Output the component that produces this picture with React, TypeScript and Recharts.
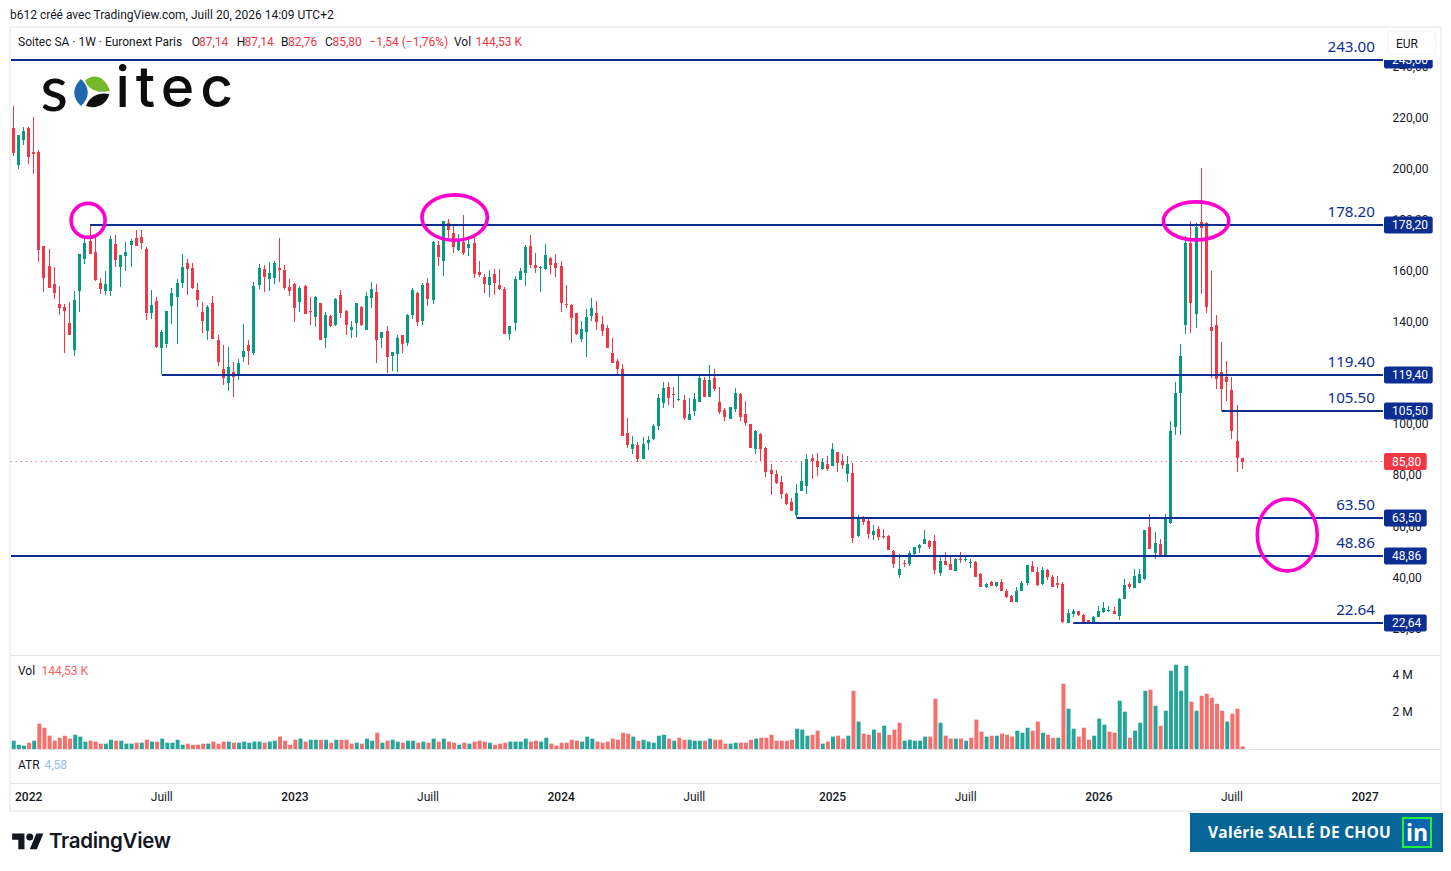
// Soitec weekly candles, TradingView layout: price pane + volume pane

import React from "react";
import { ComposedChart, Bar, Cell, XAxis, YAxis, ReferenceLine, ReferenceDot } from "recharts";

// ─── Data: [open, high, low, close] per week ─────────────────────────────────

const candles2022 = [
  [216.3,225,205.5,206.7],[202,213.6,200.4,213.6],[211.6,216.6,209.8,215.2],[216.3,216.6,202.4,205.1],[206.9,220.5,198.5,206.2],
  [206.9,207.7,163.9,168.6],[170.2,170.2,152.3,157.8],[162.3,169,153.8,153.8],[155.3,161.9,149.4,151.9],[147.5,154.5,143.3,145.9],
  [146.3,147.5,128.4,144.7],[140,148.2,135.3,135.3],[129.6,152.5,127.2,149],[152.7,167,144.5,167],[165.1,173.3,163.1,171.3],
  [172.1,178.4,167,167],[167.8,173.7,156.5,156.9],[155.7,157.6,151.4,153.3],[152.5,160.4,151,155.3],[152.5,174.1,150.6,172.9],
  [170.9,174.5,161.9,164.7],[161.9,166.6,154.1,166.6],[166.2,171.7,160.4,167.8],[170.5,172.9,161.9,172.1],[173.3,176.4,170.2,170.2],
  [173.7,176.4,169,171.3],[169,169.8,141.2,143.9],[143.9,152.9,141.6,147.1],[148.6,150.2,130.2,130.6],[130.2,137.3,120.1,136.5],
  [131.8,144.7,130.2,144.7],[146.7,153.7,139.6,151.8],[150.2,157.2,131.8,155.7],[155.7,167,153.7,161.9],[163.5,165.1,151,161.2],
  [161.5,163.5,153.3,153.7],[152.9,155.7,146.3,149],[144.3,148.2,136.1,140.8],[136.9,147.1,133.4,146.3],[147.9,150.6,133.8,133.8],
  [133.4,135.3,123.2,124.8],[122,131.4,115.8,118.5],[116.5,130.6,113.4,122.8],[120.8,124.8,111.1,118.9],[119.3,125.9,117.7,124.4],
  [126.7,139.6,124.8,129.1],[131.4,133.4,123.6,129.1],[128.3,156.1,127.5,154.5],[154.9,163.1,153.3,161.5],[161.2,162.7,152.1,158],
  [157.2,163.9,152.5,159.6],[157.6,164.3,155.3,163.5],[161.5,173.3,156.1,160.8],[160.8,162.7,152.9,153.7],[154.1,157.2,150.6,152.5],
];
const candles2023 = [
  [155.3,155.7,140.4,145.9],[148.3,154.5,144.3,153.7],[154.5,154.9,143.6,143.6],[144.7,150.2,139.3,144.3],[142.4,150.6,138.5,150.2],
  [147.9,147.9,133.4,133.4],[134.2,144.3,130.3,143.2],[142.8,143.2,138.5,138.9],[139.3,149.8,138.9,149.4],[151,153,142,144],
  [144.7,145.1,135.3,139.3],[137.3,140.8,134.2,138.5],[140,147.9,134.6,147.9],[146.3,146.7,138.9,139.3],[137.3,152.2,137.3,150.6],
  [149.8,156.1,145.9,153.4],[152.2,155.3,124.4,133.4],[134.2,136.5,130.3,136.5],[136.9,138.9,120.5,126.7],[127.1,128.7,121.3,128.7],
  [127.9,135.3,120.9,134.2],[135.3,135.3,128.3,131.8],[132.2,143.6,131,143.2],[143.2,153.7,141.6,153],[151.8,152.2,138.9,140.4],
  [140.8,155.7,139.3,154.9],[155.7,157.7,146.7,149.4],[149,172.1,147.5,171.7],[170.6,172.1,162.4,165.9],[164.3,180,158.4,180],
  [179.2,180.8,173.3,176.4],[175.3,178.4,167.4,169.8],[168.6,174.9,168.2,172.1],[171.7,182.3,166.7,167.4],[169.4,174.1,166.3,171],
  [171.4,173.7,157.7,159.2],[160,164.3,158,158.8],[158,159.2,151.8,155.3],[154.9,160.8,150.2,158],[159.2,161.2,151,155.7],
  [154.9,161.2,153,153.4],[153.4,154.1,135.7,135.7],[135.7,138.9,133.4,138.9],[140,158.4,136.9,157.3],[156.9,161.6,156.9,160.4],
  [159.6,170.6,154.5,169.8],[170.2,174.5,161.6,162.7],[162.7,167.4,159.6,161.6],[161.6,162.4,152.2,162],[161.2,171,160.8,166.7],
  [165.5,165.9,159.2,162.7],[163.5,167.1,158,161.6],
];
const candles2024 = [
  [162.4,164.3,144.3,147.9],[147.5,154.9,145.9,147.1],[147.1,147.5,132.2,142],[144,144,135.3,135.7],[133.8,140.8,132.6,137.7],
  [136.5,145.5,126.7,142.4],[142.8,149.8,140.8,145.9],[144,148.7,137.3,140.4],[139.7,142.8,135,136.9],[138.1,139.3,130.3,130.3],
  [128.3,134.2,124.4,124.4],[125.2,126,120.1,122],[122.1,124,95.8,95.8],[97,102.9,91.1,92.3],[90.8,95.8,88.8,92.7],
  [92.3,93.5,85.7,86.8],[86.8,95.4,86.8,92.7],[93.1,95.8,90.4,94.3],[94.7,100.5,94.3,99.8],[99.8,112.3,98.2,110.7],
  [108.8,117,106.8,114.6],[115,117,108,110.7],[112.3,115,106.8,111.9],[109.9,119.7,109.5,110.3],[109.9,111.9,102.1,102.9],
  [102.1,110.7,102.1,104.5],[105.6,112.7,103.7,110.3],[109.1,120.1,109.1,118.5],[117.8,118.9,111.1,111.1],[111.1,123.6,111.1,117.8],
  [118.5,122.1,113.5,114.2],[109.1,115,104.5,105.2],[106,106.8,101.7,103.3],[102.5,107.2,102.5,107.2],[106.4,114.6,105.2,112.7],
  [112.3,112.7,101.7,103.3],[104.5,109.5,99.8,100.9],[100.5,100.5,91.1,91.1],[90.8,98.2,88.8,97.8],[96.6,97,86.1,90.8],
  [91.1,91.5,79.8,81.7],[82.5,84.9,72.8,81],[81,82.5,77.1,77.4],[77.8,80.2,71.2,73.1],[73.1,73.5,68.8,69.2],
  [70,71.6,66.5,66.5],[64.9,77.1,63.7,73.5],[74.3,86.1,74.3,78.2],[76.3,88.8,73.1,86.8],[87.2,88.8,79,86.1],
  [86.1,89.2,80.2,83.7],[82.9,87.2,82.5,85.7],[84.9,88,82.1,82.9],
];
const candles2025 = [
  [84.1,93.1,84.1,90.8],[89.6,89.6,81.7,85.3],[86.1,88.8,82.9,84.5],[81,88,77.8,84.9],[81.4,85.3,54,55.9],
  [56.7,64.9,56.3,64.1],[63.7,64.5,61,62.2],[62.6,63.7,55.5,57.5],[57.1,61,55.1,58.7],[59.4,60.6,55.1,56.3],
  [56.7,59.4,55.5,56.3],[56.7,57.1,51.2,51.2],[50.8,51.2,44.2,45.7],[41.4,49.7,40.3,43.8],[46.1,47.3,44.6,45.7],
  [45.7,50.8,44.9,50],[49.7,52.4,48.9,52.4],[52,53.6,50,53.2],[53.6,59,53.6,55.5],[54.7,55.1,51.6,52.4],
  [54.7,57.1,41.8,43.4],[42.2,49.2,41,46.9],[46.9,50.4,45.3,45.3],[45.7,48.5,43.4,43.4],[43,48.1,43,47.7],
  [47.7,50.4,46.1,47.3],[47.3,48.8,46.5,47.7],[46.1,47.7,44.1,46.5],[46.5,46.9,40.6,40.6],[41.8,42.2,36.7,36.7],
  [36.7,38.3,36.3,37.9],[38.7,39.1,37.1,37.1],[37.1,38.7,36.7,38.7],[38.7,39.8,35.1,35.1],[35.1,35.9,32.4,32.8],
  [33.2,33.6,30.8,30.8],[30.8,36.7,30.8,35.1],[35.1,39.1,35.1,38.3],[38.3,45.3,37.5,45.3],[44.9,46.9,42.6,42.6],
  [42.6,44.5,37.1,37.5],[37.9,44.5,37.5,43.4],[43.4,43.8,39.5,40.6],[40.6,41.4,36.7,36.7],[38.3,41,36.3,37.5],
  [37.9,38.7,22.6,23],[22.6,28.1,22.6,26.5],[26.1,28.1,25,27.3],[27.3,27.3,25.4,25.8],[25.8,26.1,22.6,23],
  [23.8,23.8,22.6,22.6],[22.6,25.4,22.6,25],
];
const candles2026 = [
  [25,29.3,25,27.3],[27,30.8,26.5,28.5],[27.3,29.3,26.9,27.7],[27.3,28.9,26.1,26.1],[25.4,32.4,23.8,32],
  [32,39.8,32,37.5],[37.9,38.7,35.9,36.7],[36.3,43.8,36.3,41],[38.3,43.8,38.3,41.8],[39.8,59,39.5,59],
  [60.2,65.3,51.6,51.6],[50,58.2,47.7,54],[53.5,55.5,48.9,49.2],[49.2,65.3,48.9,63.7],[61.8,101.7,61.4,97.8],
  [99.3,116.9,96.2,112.6],[112.6,131.8,96.2,127.1],[139.3,174.1,135.7,171.3],[171.3,180,136.1,147.9],[143.6,179.2,138.1,177.6],
  [179.6,200.7,151.4,177.2],[179.2,179.6,144,146.3],[138.5,160.4,118.5,136.9],[139.3,143.2,114.2,118.1],[120.9,132.6,105.6,114.2],
  [118.9,125.2,109.5,116.9],[113.8,118.9,94.6,97.8],[93.9,107.9,81.7,87.2],[87.14,87.14,82.76,85.8],
];
const candles = [...candles2022, ...candles2023, ...candles2024, ...candles2025, ...candles2026];

// volume in millions, same order as candles
const volumes = [
  .45,.23,.18,.34,.45,1.37,1.15,.72,.45,.61,.72,.56,.77,.67,.4,.45,.4,.29,.29,.5,.45,.45,.29,.29,.34,.34,.5,.4,.4,.56,
  .34,.34,.5,.23,.29,.23,.23,.29,.29,.4,.29,.4,.4,.34,.34,.4,.34,.4,.4,.34,.4,.45,.67,.45,.23,.5,.56,.4,.5,.5,
  .5,.5,.34,.5,.5,.5,.29,.34,.29,.56,.45,.88,.34,.45,.5,.4,.34,.45,.45,.34,.4,.34,.56,.4,.56,.4,.34,.23,.34,.29,
  .4,.45,.4,.34,.23,.29,.34,.4,.4,.4,.56,.4,.45,.4,.61,.29,.18,.34,.34,.5,.45,.4,.67,.56,.4,.34,.4,.56,.5,.88,
  .83,.67,.45,.5,.4,.34,.72,.77,.56,.45,.61,.5,.5,.45,.45,.45,.56,.5,.5,.29,.29,.34,.34,.34,.5,.56,.61,.61,.77,.45,
  .45,.45,.5,1.1,1.05,.72,.77,.99,.29,.4,.67,.72,.56,.72,3.15,1.48,.83,.77,1.05,.88,1.26,.77,1.05,1.42,.45,.5,.45,.45,.67,.67,
  2.72,1.42,.72,.56,.56,.56,.45,.61,1.59,.94,.67,.72,.72,.83,.77,.67,.99,.88,1.15,.99,1.48,.88,.77,.61,.61,3.53,2.18,1.1,.67,1.15,
  .5,.72,1.64,1.32,.94,.88,2.61,2.02,.61,.99,1.42,3.15,3.21,2.34,1.26,2.07,4.23,4.56,3.15,4.5,2.56,2.07,2.88,2.99,2.77,2.45,
  2.07,1.48,1.91,2.18,.14,
];

const timeTickWeeks = [3, 29, 55, 81, 107, 133, 160, 186, 212, 238, 264];
const timeTickLabels = ["2022", "Juill", "2023", "Juill", "2024", "Juill", "2025", "Juill", "2026", "Juill", "2027"];
const priceTicks = [20, 40, 60, 80, 100, 120, 140, 160, 180, 200, 220, 240];
const volumeTicks = [2, 4];

const levelValues = [243, 178.2, 119.4, 105.5, 63.5, 48.86, 22.64];
const levelLabels = ["243.00", "178.20", "119.40", "105.50", "63.50", "48.86", "22.64"];
const levelStartWeeks = [0, 15, 29, 236, 153, 0, 207];

const lastPrice = 85.8;
const WEEK_SLOTS = 268;
const PRICE_DOMAIN = [10.5, 255.1];

// magenta annotations: week, price, radii
const ringWeeks = [15, 86, 231, 249];
const ringPrices = [180.2, 181.3, 180, 57.1];
const ringRadii = [[17, 17, -2], [32.7, 22.7, 1], [32.7, 19, 0], [30, 36, -1]];

const rows = Array.from({ length: WEEK_SLOTS }, (_, i) => {
  const c = candles[i];
  return c
    ? { i, o: c[0], h: c[1], l: c[2], c: c[3], v: volumes[i], range: [c[2], c[1]] }
    : { i, o: null, h: null, l: null, c: null, v: null, range: null };
});

// ─── Colours / fonts ─────────────────────────────────────────────────────────

const FONT = "Roboto, sans-serif";
const UP = "#089981";
const DOWN = "#f23645";
const VOL_UP = "#26a69a";
const VOL_DOWN = "#f56f6c";
const LEVEL = "#0c2e92";
const INK = "#131722";
const RULE = "#e0e3eb";
const FRAME = "#f1f2f3";
const PLOT_RIGHT = 1383;

const money = (v: number) => v.toFixed(2).replace(".", ",");
const snap = (y: number) => Math.round(y - 0.3);

// ─── Marks ───────────────────────────────────────────────────────────────────

const Candle = (p: any) => {
  const d = p.payload;
  if (!d || d.o == null) return null;
  const cx = Math.round(p.x + p.width / 2 - 0.5);
  const k = p.height / (d.h - d.l);
  const top = p.y + (d.h - Math.max(d.o, d.c)) * k;
  const bodyH = Math.max(Math.abs(d.o - d.c) * k, 1);
  const color = d.c >= d.o ? UP : DOWN;
  return (
    <g shapeRendering="crispEdges">
      <rect x={cx} y={p.y} width={1} height={p.height} fill={color} />
      <rect x={cx - 1} y={top} width={3} height={bodyH} fill={color} />
    </g>
  );
};

const Tag = ({ y, text, fill }: { y: number; text: string; fill: string }) => (
  <g>
    <rect x={1384} y={y - 8.5} width={text.length > 5 ? 48.7 : 42.7} height={17} rx={2} fill={fill} />
    <text x={1392} y={y + 4.3} fontFamily={FONT} fontSize={12} fill="#fff">{text}</text>
  </g>
);

const LevelLabel = ({ viewBox, value, text }: any) => {
  const y = snap(viewBox.y);
  const tag = <Tag y={y} text={money(value)} fill={LEVEL} />;
  return (
    <g>
      {value === 243 ? (
        <g>
          <clipPath id="tag243"><rect x={1380} y={y} width={60} height={10} /></clipPath>
          <g clipPath="url(#tag243)">{tag}</g>
        </g>
      ) : tag}
      <text x={1375} y={y - 8.3} textAnchor="end" fontFamily="'Noto Sans', sans-serif" fontSize={15.2} fill={LEVEL}>{text}</text>
    </g>
  );
};

const LastPriceLabel = ({ viewBox }: any) => <Tag y={viewBox.y} text={money(lastPrice)} fill={DOWN} />;

const Ring = ({ cx, cy, rx, ry, dx }: any) => (
  <ellipse cx={cx + dx} cy={cy} rx={rx} ry={ry} fill="none" stroke="#ff00cc" strokeWidth={3.6} />
);

const PriceTick = ({ y, payload }: any) => (
  <text x={1392.5} y={y + 3} fontFamily={FONT} fontSize={12} fill={INK}>{money(payload.value)}</text>
);
const VolumeTick = ({ y, payload }: any) => (
  <text x={1392.5} y={y + 4} fontFamily={FONT} fontSize={12} fill={INK}>{payload.value} M</text>
);
const TimeTick = ({ x, payload }: any) => {
  const label = timeTickLabels[timeTickWeeks.indexOf(payload.value)];
  return (
    <text x={x} y={801} textAnchor="middle" fontFamily={FONT} fontSize={12} fontWeight={label === "Juill" ? 400 : 500} fill={INK}>{label}</text>
  );
};

// ─── Page furniture ──────────────────────────────────────────────────────────

const T = ({ x, y, color = INK, size = 12, children }: any) => (
  <span style={{ position: "absolute", left: x, top: y, color, fontSize: size, fontFamily: FONT, lineHeight: "14px", whiteSpace: "pre" }}>{children}</span>
);
const Rule = ({ x, y, w, h = 1, c = RULE }: any) => (
  <div style={{ position: "absolute", left: x, top: y, width: w, height: h, background: c }} />
);

const Furniture = () => (
  <>
    <T x={10} y={8}>b612 créé avec TradingView.com, Juill 20, 2026 14:09 UTC+2</T>
    <Rule x={10} y={26} w={1432} h={2} c={FRAME} />
    <Rule x={9} y={26} w={2} h={786} c={FRAME} />
    <Rule x={1440} y={26} w={2} h={786} c={FRAME} />
    <Rule x={10} y={810} w={1432} h={2} c={FRAME} />
    <Rule x={11} y={655} w={1429} />
    <Rule x={11} y={749} w={1429} />
    <Rule x={11} y={783} w={1429} />

    <T x={18} y={35}>Soitec SA · 1W · Euronext Paris</T>
    <T x={191.7} y={35}>O</T><T x={199} y={35} color={DOWN}>87,14</T>
    <T x={236.7} y={35}>H</T><T x={244.5} y={35} color={DOWN}>87,14</T>
    <T x={281} y={35}>B</T><T x={288} y={35} color={DOWN}>82,76</T>
    <T x={325} y={35}>C</T><T x={332.5} y={35} color={DOWN}>85,80</T>
    <T x={369.3} y={35} color={DOWN}>−1,54 (−1,76%)</T>
    <T x={454} y={35}>Vol</T><T x={475.5} y={35} color={DOWN}>144,53 K</T>

    <T x={18} y={664}>Vol</T><T x={41.5} y={664} color="#f7625f">144,53 K</T>
    <T x={18} y={758}>ATR</T><T x={44.5} y={758} color="#90bff9">4,58</T>

    <div style={{ position: "absolute", left: 1387, top: 31, width: 49, height: 24, border: "1px solid #f0f3fa", borderRadius: 4, boxSizing: "border-box", background: "#fff" }} />
    <T x={1396} y={37}>EUR</T>

    {/* Soitec wordmark */}
    <span style={{ position: "absolute", left: 40.5, top: 47, fontFamily: "Lato, sans-serif", fontWeight: 500, fontSize: 63, lineHeight: "80px", color: "#0c0c0c" }}>s</span>
    <span style={{ position: "absolute", left: 115.5, top: 47, fontFamily: "Inter, sans-serif", fontWeight: 500, fontSize: 57, lineHeight: "80px", letterSpacing: 6, color: "#0c0c0c" }}>itec</span>
    <svg style={{ position: "absolute", left: 0, top: 0 }} width={240} height={120}>
      <path d="M81 79 C72 87 72 98 81 106 C90 98 90 87 81 79Z" fill="#1f68ad" />
      <path d="M85 81 C91 74 104 74 110 91 C101 93 90 92 85 81Z" fill="#76b82a" />
      <path d="M86 106 C90 95 100 92 109 94 C108 103 97 110 86 106Z" fill="#0f0f0f" />
    </svg>

    {/* TradingView mark */}
    <svg style={{ position: "absolute", left: 12, top: 830 }} width={32} height={22} viewBox="0 0 36 25">
      <path d="M14 22H7V11H0V4h14v18zM28 22h-8l7.5-18h8L28 22z" fill="#131722" />
      <circle cx={20} cy={8} r={4} fill="#131722" />
    </svg>
    <span style={{ position: "absolute", left: 49, top: 828, fontFamily: "Inter, sans-serif", fontWeight: 600, fontSize: 20.5, lineHeight: "26px", letterSpacing: -0.3, color: "#131722" }}>TradingView</span>

    {/* LinkedIn banner */}
    <div style={{ position: "absolute", left: 1190, top: 813, width: 253, height: 39, background: "#046596" }} />
    <span style={{ position: "absolute", left: 1208, top: 821, fontFamily: "'Open Sans', sans-serif", fontWeight: 700, fontSize: 15.5, lineHeight: "22px", letterSpacing: 0.25, color: "#fff", whiteSpace: "pre" }}>Valérie SALLÉ DE CHOU</span>
    <div style={{ position: "absolute", left: 1402, top: 817, width: 30, height: 31, boxSizing: "border-box", border: "2px solid #22f03c", background: "#0a66b0", color: "#fff", fontFamily: "'Open Sans', sans-serif", fontWeight: 700, fontSize: 23, lineHeight: "27px", textAlign: "center" }}>in</div>
  </>
);

// ─── Charts ──────────────────────────────────────────────────────────────────

export default function App() {
  return (
    <div style={{ position: "absolute", left: 0, top: 0, width: 1451, height: 871, background: "#fff", overflow: "hidden" }}>
      <Furniture />

      {/* price scale sits below the tags, which cover some of its labels */}
      <div style={{ position: "absolute", left: 0, top: 0 }}>
        <ComposedChart width={1451} height={660} data={rows} barCategoryGap={0} margin={{ top: 29, right: 10, bottom: 6, left: 10.74 }}>
          <XAxis dataKey="i" hide />
          <YAxis
            orientation="right"
            width={58}
            domain={PRICE_DOMAIN}
            allowDataOverflow
            ticks={priceTicks}
            interval={0}
            axisLine={false}
            tickLine={false}
            tick={<PriceTick />}
          />
          <Bar dataKey="v" fill="none" isAnimationActive={false} />
        </ComposedChart>
      </div>

      <div style={{ position: "absolute", left: 0, top: 0 }}>
        <ComposedChart width={1451} height={660} data={rows} barCategoryGap={0} margin={{ top: 29, right: 68, bottom: 6, left: 10.74 }}>
          <XAxis dataKey="i" hide />
          <YAxis hide domain={PRICE_DOMAIN} allowDataOverflow />
          <ReferenceLine y={lastPrice} stroke={DOWN} strokeWidth={1} strokeDasharray="1 4" label={<LastPriceLabel />} />
          {levelValues.map((v, n) => (
            <ReferenceLine
              key={v}
              segment={[{ x: levelStartWeeks[n], y: v }, { x: WEEK_SLOTS - 1, y: v }]}
              shape={(p: any) => (
                <line x1={levelStartWeeks[n] === 0 ? 11 : p.x1} x2={PLOT_RIGHT} y1={snap(p.y1)} y2={snap(p.y2)} stroke={LEVEL} strokeWidth={2} />
              )}
              label={<LevelLabel value={v} text={levelLabels[n]} />}
            />
          ))}
          <Bar dataKey="range" shape={<Candle />} isAnimationActive={false} />
          {ringWeeks.map((w, n) => (
            <ReferenceDot
              key={w}
              x={w}
              y={ringPrices[n]}
              r={1}
              shape={(p: any) => <Ring cx={p.cx} cy={p.cy} rx={ringRadii[n][0]} ry={ringRadii[n][1]} dx={ringRadii[n][2]} />}
            />
          ))}
        </ComposedChart>
      </div>

      <div style={{ position: "absolute", left: 0, top: 0 }}>
        <ComposedChart width={1451} height={811} data={rows} barCategoryGap={0} margin={{ top: 656, right: 10, bottom: 0, left: 10.74 }}>
          <XAxis
            dataKey="i"
            height={62}
            ticks={timeTickWeeks}
            interval={0}
            axisLine={false}
            tickLine={false}
            tick={<TimeTick />}
          />
          <YAxis
            orientation="right"
            width={58}
            domain={[0, 5.03]}
            allowDataOverflow
            ticks={volumeTicks}
            interval={0}
            axisLine={false}
            tickLine={false}
            tick={<VolumeTick />}
          />
          <Bar dataKey="v" barSize={4} isAnimationActive={false}>
            {rows.map((r, i) => (
              <Cell key={i} fill={i > 0 && (r.c as number) < (rows[i - 1].c as number) ? VOL_DOWN : VOL_UP} />
            ))}
          </Bar>
        </ComposedChart>
      </div>
    </div>
  );
}
